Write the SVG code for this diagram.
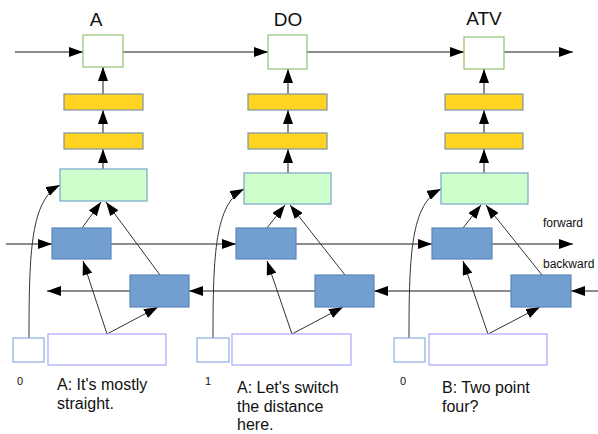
<svg xmlns="http://www.w3.org/2000/svg" width="598" height="434" viewBox="0 0 598 434">
<style>
text{font-family:"Liberation Sans",Arial,sans-serif;fill:#111}
.lbl{font-size:19px}
.utt{font-size:16px}
.num{font-size:11px}
.dir{font-size:12px}
.out{fill:#fff;stroke:#8fc46f;stroke-width:1.2}
.yel{fill:#ffd320;stroke:#7d94a8;stroke-width:1.2}
.grn{fill:#ccffcc;stroke:#7aa3c8;stroke-width:1.2}
.blu{fill:#729fcf;stroke:#5c87bb;stroke-width:1.2}
.inS{fill:#fff;stroke:#8aaede;stroke-width:1.2}
.inL{fill:#fff;stroke:#a8a8ff;stroke-width:1.2}
.main{stroke:#666;stroke-width:1.5;fill:none}
.thin{stroke:#333;stroke-width:1;fill:none}
</style>
<defs>
<marker id="ah" markerUnits="userSpaceOnUse" markerWidth="14" markerHeight="10" refX="14" refY="5" orient="auto">
<path d="M0,0 L14,5 L0,10 z" fill="#000"/>
</marker>
</defs>

<g id="connectors">
<line class="main" x1="15" y1="52" x2="83" y2="52" marker-end="url(#ah)"/>
<line class="main" x1="123" y1="52" x2="268" y2="52" marker-end="url(#ah)"/>
<line class="main" x1="307" y1="52" x2="464" y2="52" marker-end="url(#ah)"/>
<line class="main" x1="504" y1="52" x2="573" y2="52" marker-end="url(#ah)"/>
<line class="main" x1="6" y1="244" x2="52" y2="244" marker-end="url(#ah)"/>
<line class="main" x1="111" y1="244" x2="236" y2="244" marker-end="url(#ah)"/>
<line class="main" x1="296" y1="244" x2="432" y2="244" marker-end="url(#ah)"/>
<line class="main" x1="492" y1="244" x2="573" y2="244" marker-end="url(#ah)"/>
<line class="main" x1="598" y1="291" x2="571" y2="291" marker-end="url(#ah)"/>
<line class="main" x1="511" y1="291" x2="374" y2="291" marker-end="url(#ah)"/>
<line class="main" x1="315" y1="291" x2="189" y2="291" marker-end="url(#ah)"/>
<line class="main" x1="130" y1="291" x2="47" y2="291" marker-end="url(#ah)"/>
<line class="main" x1="103" y1="169" x2="103" y2="149" marker-end="url(#ah)"/>
<line class="main" x1="103" y1="133" x2="103" y2="110" marker-end="url(#ah)"/>
<line class="main" x1="103" y1="94" x2="103" y2="67" marker-end="url(#ah)"/>
<line class="main" x1="288" y1="173" x2="288" y2="149" marker-end="url(#ah)"/>
<line class="main" x1="288" y1="133" x2="288" y2="110" marker-end="url(#ah)"/>
<line class="main" x1="288" y1="94" x2="288" y2="69" marker-end="url(#ah)"/>
<line class="main" x1="484" y1="173" x2="484" y2="149" marker-end="url(#ah)"/>
<line class="main" x1="484" y1="133" x2="484" y2="110" marker-end="url(#ah)"/>
<line class="main" x1="484" y1="94" x2="484" y2="69" marker-end="url(#ah)"/>
<line class="thin" x1="82" y1="228" x2="101" y2="202" marker-end="url(#ah)"/>
<line class="thin" x1="160" y1="275" x2="106" y2="202" marker-end="url(#ah)"/>
<line class="thin" x1="267" y1="228" x2="285" y2="205" marker-end="url(#ah)"/>
<line class="thin" x1="345" y1="275" x2="290" y2="205" marker-end="url(#ah)"/>
<line class="thin" x1="463" y1="228" x2="481" y2="205" marker-end="url(#ah)"/>
<line class="thin" x1="542" y1="275" x2="486" y2="205" marker-end="url(#ah)"/>
<polyline class="thin" points="107,334 83,261" marker-end="url(#ah)"/>
<polyline class="thin" points="107,334 158,307" marker-end="url(#ah)"/>
<polyline class="thin" points="292,334 267,261" marker-end="url(#ah)"/>
<polyline class="thin" points="292,334 343,307" marker-end="url(#ah)"/>
<polyline class="thin" points="488,334 463,261" marker-end="url(#ah)"/>
<polyline class="thin" points="488,334 540,307" marker-end="url(#ah)"/>
<path class="thin" d="M29,338 C29,250 31,200 60,185" marker-end="url(#ah)"/>
<path class="thin" d="M213,338 C213,254 215,204 244,189" marker-end="url(#ah)"/>
<path class="thin" d="M409,338 C409,254 411,204 441,189" marker-end="url(#ah)"/>
</g>

<g id="col1">
<g id="out1"><text class="lbl" x="96" y="26" text-anchor="middle">A</text><rect class="out" x="83" y="35" width="40" height="32"/></g>
<g id="y1a"><rect class="yel" x="64" y="94" width="79" height="16"/></g>
<g id="y1b"><rect class="yel" x="64" y="133" width="79" height="16"/></g>
<g id="g1"><rect class="grn" x="60" y="169" width="87" height="32"/></g>
<g id="f1"><rect class="blu" x="52" y="228" width="59" height="31"/></g>
<g id="b1"><rect class="blu" x="130" y="275" width="59" height="32"/></g>
<g id="s1"><rect class="inS" x="13" y="338" width="31" height="24"/><text class="num" x="17" y="385">0</text></g>
<g id="u1"><rect class="inL" x="48" y="334" width="118" height="31"/>
<text class="utt" x="57" y="390">A: It's mostly</text><text class="utt" x="57" y="409">straight.</text></g>
</g>

<g id="col2">
<g id="out2"><text class="lbl" x="288" y="26" text-anchor="middle">DO</text><rect class="out" x="268" y="35" width="39" height="34"/></g>
<g id="y2a"><rect class="yel" x="248" y="94" width="79" height="16"/></g>
<g id="y2b"><rect class="yel" x="248" y="133" width="79" height="16"/></g>
<g id="g2"><rect class="grn" x="244" y="173" width="87" height="31"/></g>
<g id="f2"><rect class="blu" x="236" y="228" width="60" height="31"/></g>
<g id="b2"><rect class="blu" x="315" y="275" width="59" height="32"/></g>
<g id="s2"><rect class="inS" x="197" y="338" width="32" height="24"/><text class="num" x="205" y="385">1</text></g>
<g id="u2"><rect class="inL" x="232" y="334" width="119" height="31"/>
<text class="utt" x="237" y="393">A: Let's switch</text><text class="utt" x="237" y="411.5">the distance</text><text class="utt" x="237" y="430">here.</text></g>
</g>

<g id="col3">
<g id="out3"><text class="lbl" x="484" y="25" text-anchor="middle">ATV</text><rect class="out" x="464" y="37" width="40" height="32"/></g>
<g id="y3a"><rect class="yel" x="445" y="94" width="78" height="16"/></g>
<g id="y3b"><rect class="yel" x="445" y="133" width="78" height="16"/></g>
<g id="g3"><rect class="grn" x="441" y="173" width="87" height="31"/></g>
<g id="f3"><rect class="blu" x="432" y="228" width="60" height="31"/></g>
<g id="b3"><rect class="blu" x="511" y="275" width="60" height="32"/></g>
<g id="s3"><rect class="inS" x="394" y="338" width="31" height="24"/><text class="num" x="400" y="385">0</text></g>
<g id="u3"><rect class="inL" x="429" y="334" width="118" height="31"/>
<text class="utt" x="442" y="393">B: Two point</text><text class="utt" x="442" y="411.5">four?</text></g>
</g>

<g id="legend">
<text class="dir" x="543" y="227">forward</text>
<text class="dir" x="543" y="268">backward</text>
</g>
</svg>
